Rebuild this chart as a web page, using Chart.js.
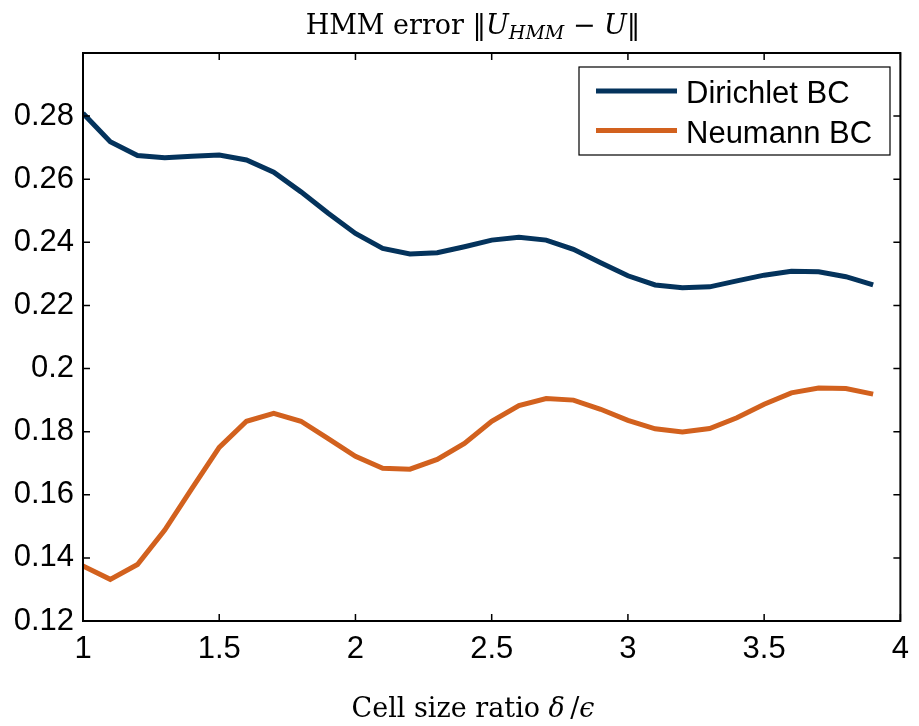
<!DOCTYPE html>
<html>
<head>
<meta charset="utf-8">
<script src="https://cdn.jsdelivr.net/npm/chart.js@4"></script>
<style>
  html, body { margin: 0; padding: 0; background: #fff; }
  canvas { display: block; }
</style>
</head>
<body>
<canvas id="hmmChart" width="919" height="726"></canvas>
<script>
// cell size ratio delta/epsilon
const ratios = [1.0, 1.1, 1.2, 1.3, 1.4, 1.5, 1.6, 1.7, 1.8, 1.9,
                2.0, 2.1, 2.2, 2.3, 2.4, 2.5, 2.6, 2.7, 2.8, 2.9,
                3.0, 3.1, 3.2, 3.3, 3.4, 3.5, 3.6, 3.7, 3.8, 3.9];
const dirichletErr = [0.2809, 0.2719, 0.2675, 0.2668, 0.2673, 0.2677, 0.2661, 0.2622, 0.2560, 0.2492,
                      0.2428, 0.2381, 0.2363, 0.2367, 0.2386, 0.2407, 0.2416, 0.2407, 0.2378, 0.2335,
                      0.2294, 0.2265, 0.2256, 0.2259, 0.2278, 0.2296, 0.2308, 0.2307, 0.2291, 0.2265];
const neumannErr = [0.1374, 0.1332, 0.1379, 0.1488, 0.1620, 0.1750, 0.1833, 0.1858, 0.1833, 0.1778,
                    0.1722, 0.1684, 0.1681, 0.1712, 0.1763, 0.1833, 0.1883, 0.1905, 0.1900, 0.1871,
                    0.1836, 0.1809, 0.1799, 0.1810, 0.1844, 0.1887, 0.1923, 0.1938, 0.1937, 0.1919];
const xTicks = [1, 1.5, 2, 2.5, 3, 3.5, 4];
const yTicks = [0.12, 0.14, 0.16, 0.18, 0.2, 0.22, 0.24, 0.26, 0.28];

const SANS = '"Liberation Sans", Arial, sans-serif';
const SERIF = '"DejaVu Serif", serif';

// draws a list of text runs (mixed upright / italic / subscript) centred on cx
function drawRuns(ctx, runs, cx, baseline) {
    let total = 0;
    runs.forEach(r => { ctx.font = r.font; r.w = ctx.measureText(r.text).width; total += r.w; });
    let x = cx - total / 2;
    ctx.textAlign = 'left';
    ctx.textBaseline = 'alphabetic';
    ctx.fillStyle = '#000';
    runs.forEach(r => {
        ctx.font = r.font;
        ctx.fillText(r.text, x, baseline + (r.dy || 0));
        x += r.w;
    });
}

const matlabFrame = {
    id: 'matlabFrame',
    afterDraw(chart) {
        const ctx = chart.ctx;
        const a = chart.chartArea;
        const xs = chart.scales.x, ys = chart.scales.y;
        ctx.save();
        // axes box
        ctx.strokeStyle = '#000';
        ctx.lineWidth = 2;
        ctx.strokeRect(a.left, a.top, a.right - a.left, a.bottom - a.top);
        // inward ticks on all four sides
        ctx.lineWidth = 1.5;
        ctx.beginPath();
        xTicks.forEach(v => {
            const px = xs.getPixelForValue(v);
            ctx.moveTo(px, a.bottom); ctx.lineTo(px, a.bottom - 7);
            ctx.moveTo(px, a.top); ctx.lineTo(px, a.top + 7);
        });
        yTicks.forEach(v => {
            const py = ys.getPixelForValue(v);
            ctx.moveTo(a.left, py); ctx.lineTo(a.left + 7, py);
            ctx.moveTo(a.right, py); ctx.lineTo(a.right - 7, py);
        });
        ctx.stroke();

        // legend box (north-east, inside the axes)
        const lx = 579, ly = 67, lw = 311, lh = 88;
        ctx.fillStyle = '#fff';
        ctx.fillRect(lx, ly, lw, lh);
        ctx.strokeStyle = '#000';
        ctx.lineWidth = 1.2;
        ctx.strokeRect(lx, ly, lw, lh);
        chart.data.datasets.forEach((ds, i) => {
            const rowY = 91 + i * 39.5;
            ctx.strokeStyle = ds.borderColor;
            ctx.lineWidth = 5;
            ctx.beginPath();
            ctx.moveTo(596, rowY); ctx.lineTo(677, rowY);
            ctx.stroke();
            ctx.fillStyle = '#000';
            ctx.font = '31px ' + SANS;
            ctx.textAlign = 'left';
            ctx.textBaseline = 'alphabetic';
            ctx.fillText(ds.label, 686, rowY + 12);
        });

        // title and x-axis label with math parts
        const cx = 473;
        drawRuns(ctx, [
            { text: 'HMM error \u2016', font: '27px ' + SERIF },
            { text: 'U', font: 'italic 27px ' + SERIF },
            { text: 'HMM', font: 'italic 19px ' + SERIF, dy: 5 },
            { text: ' \u2212 ', font: '27px ' + SERIF },
            { text: 'U', font: 'italic 27px ' + SERIF },
            { text: '\u2016', font: '27px ' + SERIF }
        ], cx, 34);
        drawRuns(ctx, [
            { text: 'Cell size ratio ', font: '27px ' + SERIF },
            { text: '\u03B4', font: 'italic 27px ' + SERIF },
            { text: '\u2009/', font: '27px ' + SERIF },
            { text: '\u03F5', font: 'italic 27px ' + SERIF }
        ], cx, 717);
        ctx.restore();
    }
};

const ctxHmm = document.getElementById('hmmChart').getContext('2d');

let chart = new Chart(ctxHmm, {
    type: 'line',
    data: {
        datasets: [{
            label: 'Dirichlet BC',
            data: ratios.map((r, i) => ({ x: r, y: dirichletErr[i] })),
            borderColor: '#04335C',
            borderWidth: 5,
            pointRadius: 0,
            tension: 0,
            fill: false
        }, {
            label: 'Neumann BC',
            data: ratios.map((r, i) => ({ x: r, y: neumannErr[i] })),
            borderColor: '#D2611E',
            borderWidth: 5,
            pointRadius: 0,
            tension: 0,
            fill: false
        }]
    },
    options: {
        responsive: false,
        animation: false,
        layout: { padding: { top: 53, right: 16, left: 0, bottom: 0 } },
        plugins: {
            legend: { display: false },
            title: { display: false },
            tooltip: { enabled: false }
        },
        scales: {
            x: {
                type: 'linear',
                min: 1,
                max: 4,
                afterBuildTicks: scale => { scale.ticks = xTicks.map(v => ({ value: v })); },
                afterFit: scale => { scale.height = 105; },
                grid: { display: false, drawTicks: false },
                border: { display: false },
                ticks: {
                    color: '#000',
                    padding: 10,
                    maxRotation: 0,
                    font: { family: SANS, size: 31 },
                    callback: v => String(v)
                }
            },
            y: {
                type: 'linear',
                min: 0.12,
                max: 0.30,
                afterBuildTicks: scale => { scale.ticks = yTicks.map(v => ({ value: v })); },
                afterFit: scale => { scale.width = 83; },
                grid: { display: false, drawTicks: false },
                border: { display: false },
                ticks: {
                    color: '#000',
                    padding: 9,
                    font: { family: SANS, size: 31 },
                    callback: v => String(Number(v.toFixed(2)))
                }
            }
        }
    },
    plugins: [matlabFrame]
});
</script>
</body>
</html>
